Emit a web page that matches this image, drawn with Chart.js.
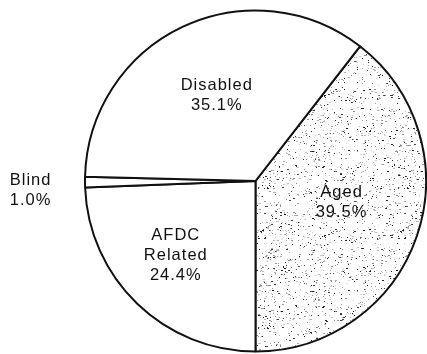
<!DOCTYPE html>
<html>
<head>
<meta charset="utf-8">
<style>
  html, body { margin: 0; padding: 0; background: #fff; }
  #wrap { width: 427px; height: 354px; }
</style>
<script src="https://cdn.jsdelivr.net/npm/chart.js@4.4.1/dist/chart.umd.min.js"></script>
</head>
<body>
<div id="wrap"><canvas id="pie" width="427" height="354"></canvas></div>
<script>
// Recipients by eligibility category (percent of total)
const categories = ["Aged", "AFDC Related", "Blind", "Disabled"];
const labelLines = [["Aged"], ["AFDC", "Related"], ["Blind"], ["Disabled"]];
const shares = [39.5, 24.4, 1.0, 35.1];

// Label placement relative to each slice: distance (fraction of radius) and angle nudge (deg)
const labelDistance = [0.52, 0.64, 1.32, 0.55];
const labelAngleNudge = [-5, 3, -2, 1];

// Stippled grey texture for the shaded slice (seeded so it is stable)
function stipplePattern() {
  const size = 140;
  const c = document.createElement('canvas');
  c.width = size; c.height = size;
  const g = c.getContext('2d');
  g.fillStyle = '#ffffff';
  g.fillRect(0, 0, size, size);
  let seed = 12345;
  const rnd = () => { seed = (seed * 1103515245 + 12345) & 0x7fffffff; return seed / 0x7fffffff; };
  for (let i = 0; i < 1250; i++) {
    const x = Math.floor(rnd() * size);
    const y = Math.floor(rnd() * size);
    const dark = rnd() < 0.3;
    const v = dark ? Math.floor(20 + rnd() * 60) : Math.floor(130 + rnd() * 90);
    g.fillStyle = `rgb(${v},${v},${v})`;
    g.fillRect(x, y, rnd() < 0.25 ? 2 : 1, 1);
  }
  return g.createPattern(c, 'repeat');
}

const ctx = document.getElementById('pie').getContext('2d');
const fills = [stipplePattern(), '#ffffff', '#ffffff', '#ffffff'];

const sliceLabels = {
  id: 'sliceLabels',
  afterDatasetsDraw(chart) {
    const meta = chart.getDatasetMeta(0);
    const c = chart.ctx;
    c.save();
    c.fillStyle = '#111111';
    c.font = '16.5px "Liberation Sans", Arial, Helvetica, sans-serif';
    if ('letterSpacing' in c) c.letterSpacing = '1px';
    c.textAlign = 'center';
    c.textBaseline = 'middle';
    const lineH = 20;
    meta.data.forEach((arc, i) => {
      const p = arc.getProps(['x', 'y', 'startAngle', 'endAngle', 'outerRadius'], true);
      const mid = (p.startAngle + p.endAngle) / 2 + labelAngleNudge[i] * Math.PI / 180;
      const d = p.outerRadius * labelDistance[i];
      const cx = p.x + Math.cos(mid) * d;
      const cy = p.y + Math.sin(mid) * d;
      const lines = labelLines[i].concat([shares[i].toFixed(1) + '%']);
      const y0 = cy - (lines.length - 1) * lineH / 2;
      lines.forEach((t, k) => c.fillText(t, cx, y0 + k * lineH));
    });
    c.restore();
  }
};

new Chart(ctx, {
  type: 'pie',
  data: {
    labels: categories,
    datasets: [{
      data: shares,
      backgroundColor: fills,
      borderColor: '#111111',
      borderWidth: 2,
      hoverOffset: 0
    }]
  },
  options: {
    responsive: false,
    animation: false,
    rotation: 37.8,
    layout: { padding: { left: 84, top: 9, right: 0, bottom: 1 } },
    plugins: {
      legend: { display: false },
      tooltip: { enabled: false }
    },
    events: []
  },
  plugins: [sliceLabels]
});
</script>
</body>
</html>
